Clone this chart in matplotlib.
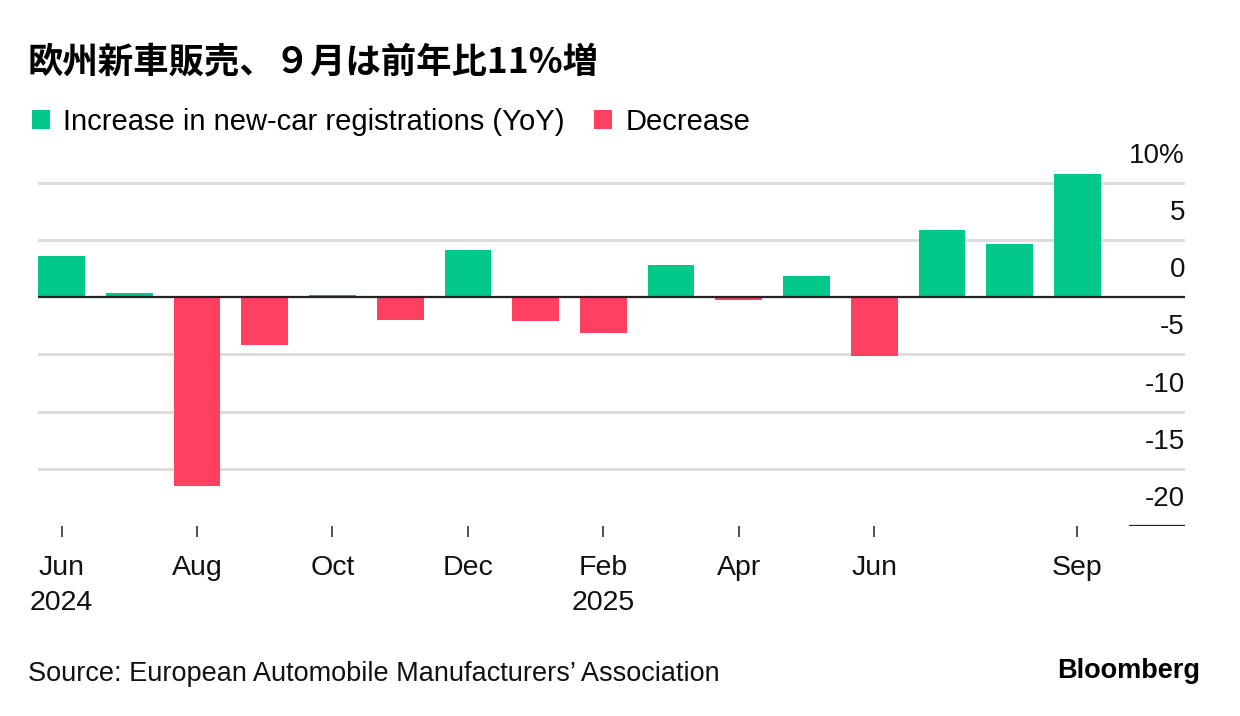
import matplotlib
matplotlib.use('Agg')
import matplotlib.pyplot as plt
import matplotlib.transforms as mtransforms
from matplotlib.patches import Patch
import numpy as np

plt.rcParams['font.family'] = ['Liberation Sans', 'Noto Sans CJK JP', 'DejaVu Sans']

# monthly YoY change in new-car registrations, Jun 2024 .. Sep 2025
months = ['2024-06', '2024-07', '2024-08', '2024-09', '2024-10', '2024-11', '2024-12',
          '2025-01', '2025-02', '2025-03', '2025-04', '2025-05', '2025-06', '2025-07',
          '2025-08', '2025-09']
yoy = [3.6, 0.4, -16.5, -4.2, 0.2, -2.0, 4.1, -2.1, -3.1, 2.8, -0.25, 1.9, -5.1, 5.9, 4.7, 10.8]

tick_idx = [0, 2, 4, 6, 8, 10, 12, 15]
tick_labels = ['Jun\n2024', 'Aug', 'Oct', 'Dec', 'Feb\n2025', 'Apr', 'Jun', 'Sep']
y_ticks = [10, 5, 0, -5, -10, -15, -20]
y_labels = ['10%', '5', '0', '-5', '-10', '-15', '-20']

GREEN = '#00c78a'
RED = '#ff4060'

fig = plt.figure(figsize=(12.4, 7.16), dpi=100)
ax = fig.add_axes([0.0306, 0.2654, 0.925, 0.511])

x = np.arange(len(yoy))
colors = [GREEN if v >= 0 else RED for v in yoy]
ax.bar(x, yoy, width=0.69, color=colors, zorder=2)

ax.set_xlim(-0.35, 16.59)
ax.set_ylim(-20, 12)

# grid lines
for v in y_ticks:
    if v == 0:
        ax.axhline(0, color='#222222', lw=1.6, zorder=3)
    elif v == -20:
        ax.axhline(v, xmin=0.952, xmax=1, color='#222222', lw=1.6, zorder=3)
    else:
        ax.axhline(v, color='#dddddd', lw=2.2, zorder=1)

# y labels on the right, sitting above their lines
off = mtransforms.ScaledTranslation(0, 0.27, fig.dpi_scale_trans)
trans = mtransforms.blended_transform_factory(ax.transAxes, ax.transData) + off
for v, lab in zip(y_ticks, y_labels):
    ax.text(1.0, v, lab, transform=trans, ha='right', va='center', fontsize=20, color='#111111')

ax.set_yticks([])
ax.set_xticks(tick_idx)
ax.set_xticklabels(tick_labels, fontsize=20.5, linespacing=1.45, color='#111111')
ax.tick_params(axis='x', length=8, width=1.2, color='#333333', pad=13)
for s in ax.spines.values():
    s.set_visible(False)

# title
fig.text(0.0226, 0.9134, '欧州新車販売、９月は前年比11%増', fontsize=25.5, fontweight='bold',
         family=['Noto Sans CJK JP', 'DejaVu Sans'], va='center', ha='left')

# legend
handles = [Patch(facecolor=GREEN), Patch(facecolor=RED)]
fig.legend(handles, ['Increase in new-car registrations (YoY)', 'Decrease'],
           loc='center left', bbox_to_anchor=(0.026, 0.8296), ncol=2, frameon=False,
           fontsize=21, handlelength=0.62, handleheight=0.62, handletextpad=0.45,
           columnspacing=1.0, borderaxespad=0, borderpad=0)

fig.text(0.0226, 0.0587, 'Source: European Automobile Manufacturers’ Association',
         fontsize=19.5, va='center', ha='left', color='#111111')
fig.text(0.9677, 0.0630, 'Bloomberg', fontsize=19.5, fontweight='bold', va='center', ha='right')

fig.savefig('out.png', dpi=100, facecolor='white')
